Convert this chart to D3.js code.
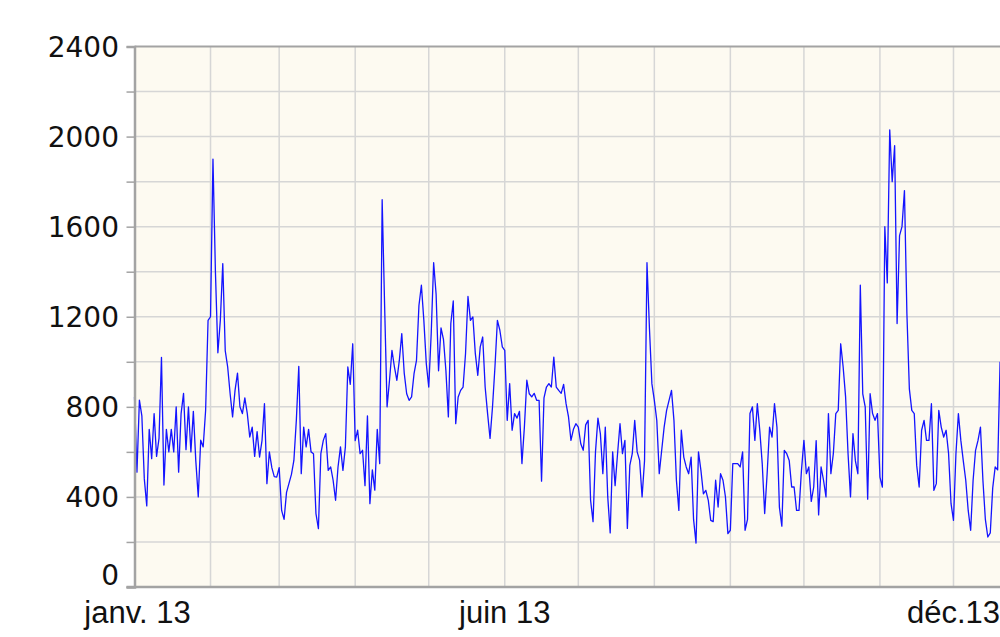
<!DOCTYPE html>
<html lang="fr">
<head>
	<meta charset="utf-8">
	<title>Série journalière 2013</title>
	<style type="text/css">
		html, body {
			margin: 0;
			padding: 0;
			background: #ffffff;
		}
		.grid line {
			stroke: #d6d6d6;
			stroke-width: 1.5px;
		}
		.ylabel {
			font-family: "DejaVu Sans", sans-serif;
			font-size: 28px;
			fill: #111;
		}
		.xlabel {
			font-family: "Liberation Sans", Arial, sans-serif;
			font-size: 31px;
			fill: #111;
		}
	</style>
</head>
<body>
<div id="chart"></div>
<script src="https://d3js.org/d3.v7.min.js"></script>
<script type="text/javascript">
// valeurs journalières, un tableau par mois (2013)
var janv = [844,510,830,760,480,360,700,570,770,580,660,1020,453,700,600,700,600,800,510,770,860,610,800,600,780,560,400,652,622,784,1184];
var fevr = [1200,1900,1400,1040,1184,1436,1050,977,858,755,873,950,800,770,840,770,666,710,580,690,577,650,814,459,600,530,490,488];
var mars = [530,340,300,420,460,500,562,740,980,503,710,622,700,600,592,326,259,592,651,681,518,533,474,385,533,622,518,622,977,900,1080];
var avr  = [650,696,592,607,450,760,370,520,430,700,548,1720,1250,800,918,1051,977,918,1006,1125,950,858,829,844,947,1006,1250,1340,1184,992];
var mai  = [888,1125,1440,1300,960,1150,1100,960,755,1170,1270,725,844,873,888,1036,1290,1184,1199,1036,940,1066,1110,888,770,660,799,977,1184,1140,1066];
var juin = [1051,740,903,696,770,750,780,548,710,918,858,844,860,829,829,470,840,888,903,888,1021,888,873,860,900,814,755,651,700,725];
var juil = [710,636,607,720,740,385,290,600,750,680,503,710,400,240,600,450,592,725,592,651,260,540,592,740,600,562,400,560,1440,1150,903];
var aout = [829,740,503,607,710,784,829,873,740,474,340,696,577,533,503,577,300,195,600,518,414,429,385,296,290,474,355,503,474,400,237];
var sept = [252,548,548,548,533,600,252,300,770,800,651,814,696,548,326,503,710,666,814,710,355,270,607,592,562,444,444,340,340,518];
var oct  = [651,503,533,380,444,650,320,533,474,400,770,503,592,770,784,1080,977,844,592,400,681,560,503,1340,858,800,390,858,770,740,770];
var nov  = [488,444,1600,1350,2030,1800,1960,1170,1560,1600,1760,1214,880,784,770,540,444,696,740,651,651,814,429,459,784,710,666,696,592,370];
var dec  = [296,592,770,651,560,474,340,252,474,607,651,710,474,300,222,240,440,533,520,1000];

var months = [janv, fevr, mars, avr, mai, juin, juil, aout, sept, oct, nov, dec];

var yTicks = [0, 400, 800, 1200, 1600, 2000, 2400];
var xTickDates = [new Date(2013, 0, 1), new Date(2013, 5, 1), new Date(2013, 11, 1)];
var xTickLabels = ["janv. 13", "juin 13", "déc.13"];

// une ligne par jour
var data = [];
months.forEach(function (vals, m) {
	vals.forEach(function (v, i) {
		data.push({date: new Date(2013, m, i + 1), value: v});
	});
});

var width = 1000, height = 637;
var margin = {top: 46.5, left: 134.5, bottom: 50};

var x = d3.scaleTime()
	.domain([new Date(2013, 0, 1), new Date(2014, 0, 1)])
	.range([margin.left, margin.left + 895]);

var y = d3.scaleLinear()
	.domain([0, 2400])
	.range([height - margin.bottom, margin.top]);

var svg = d3.select("#chart")
	.append("svg")
	.attr("width", width)
	.attr("height", height);

// fond du tracé
svg.append("rect")
	.attr("x", x.range()[0])
	.attr("y", y(2400))
	.attr("width", x.range()[1] - x.range()[0])
	.attr("height", y(0) - y(2400))
	.attr("fill", "#fdfaf1");

var grid = svg.append("g").attr("class", "grid");

grid.selectAll(".h")
	.data(d3.range(200, 2400, 200))
	.enter()
	.append("line")
	.attr("x1", x.range()[0])
	.attr("x2", x.range()[1])
	.attr("y1", function (d) { return y(d); })
	.attr("y2", function (d) { return y(d); });

grid.selectAll(".v")
	.data(d3.timeMonth.range(new Date(2013, 1, 1), new Date(2014, 0, 1)))
	.enter()
	.append("line")
	.attr("x1", function (d) { return x(d); })
	.attr("x2", function (d) { return x(d); })
	.attr("y1", y(2400))
	.attr("y2", y(0));

// la courbe
var line = d3.line()
	.x(function (d) { return x(d.date); })
	.y(function (d) { return y(d.value); });

svg.append("path")
	.datum(data)
	.attr("d", line)
	.attr("fill", "none")
	.attr("stroke", "#1414ff")
	.attr("stroke-width", 1.3)
	.attr("stroke-linejoin", "round");

// cadre : haut, gauche, bas
svg.append("line")
	.attr("x1", x.range()[0]).attr("x2", x.range()[1])
	.attr("y1", y(2400)).attr("y2", y(2400))
	.attr("stroke", "#a3a3a3").attr("stroke-width", 2);

var yAxis = d3.axisLeft(y)
	.tickValues(d3.range(0, 2600, 200))
	.tickSize(8)
	.tickFormat("");

svg.append("g")
	.attr("transform", "translate(" + x.range()[0] + ",0)")
	.call(yAxis)
	.call(function (g) {
		g.select(".domain").attr("stroke", "#a3a3a3").attr("stroke-width", 2.5);
		g.selectAll(".tick line").attr("stroke", "#a3a3a3").attr("stroke-width", 1.5);
	});

svg.append("line")
	.attr("x1", x.range()[0] - 8).attr("x2", x.range()[1])
	.attr("y1", y(0)).attr("y2", y(0))
	.attr("stroke", "#a3a3a3").attr("stroke-width", 2.5);

// étiquettes
svg.selectAll(".ylabel")
	.data(yTicks)
	.enter()
	.append("text")
	.attr("class", "ylabel")
	.attr("text-anchor", "end")
	.attr("x", 119)
	.attr("y", function (d) { return y(d) + (d === 0 ? -2 : 10); })
	.text(function (d) { return d; });

svg.selectAll(".xlabel")
	.data(xTickDates)
	.enter()
	.append("text")
	.attr("class", "xlabel")
	.attr("text-anchor", "middle")
	.attr("x", function (d, i) { return x(d) + (i === 0 ? 3 : 0); })
	.attr("y", 623)
	.text(function (d, i) { return xTickLabels[i]; });
</script>
</body>
</html>
